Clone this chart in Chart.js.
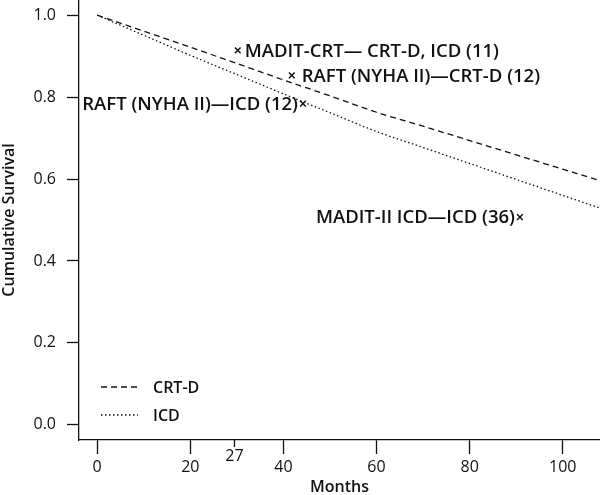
<!DOCTYPE html>
<html>
<head>
<meta charset="utf-8">
<script src="https://cdn.jsdelivr.net/npm/chart.js@4/dist/chart.umd.min.js"></script>
<style>
  body { margin: 0; background: #fff; }
  #wrap { width: 600px; height: 495px; position: relative; }
</style>
</head>
<body>
<div id="wrap"><canvas id="survivalChart"></canvas></div>
<script>
// Survival curves
const months = [0, 10, 20, 30, 40, 50, 60, 70, 80, 90, 100, 108];
const crtdSurvival = [1.0, 0.961, 0.922, 0.882, 0.842, 0.803, 0.763, 0.729, 0.694, 0.659, 0.624, 0.596];
const icdSurvival = [1.0, 0.951, 0.902, 0.855, 0.808, 0.762, 0.716, 0.677, 0.638, 0.599, 0.560, 0.529];

// Trial markers (x) with their labels
const trialNames = ['MADIT-CRT\u2014 CRT-D, ICD (11)', 'RAFT (NYHA II)\u2014CRT-D (12)', 'RAFT (NYHA II)\u2014ICD (12)', 'MADIT-II ICD\u2014ICD (36)'];
const trialMonths = [30.2, 41.8, 44.2, 90.8];
const trialSurvival = [0.914, 0.853, 0.784, 0.507];
const trialLabelSide = ['right', 'right', 'left', 'left'];

// Axis ticks
const xTicks = [0, 20, 40, 60, 80, 100];
const markTickValue = 29.5;
const markTickLabel = '27';
const yTicks = [0, 0.2, 0.4, 0.6, 0.8, 1.0];

const FONT = "'Open Sans', sans-serif";

function toPoints(xs, ys) {
    return xs.map((x, i) => ({ x: x, y: ys[i] }));
}

// Draws the marker labels, the extra "27" tick and the legend
const annotations = {
    id: 'annotations',
    afterDraw(chart) {
        const ctx = chart.ctx;
        const area = chart.chartArea;
        const xScale = chart.scales.x;
        ctx.save();
        ctx.fillStyle = '#111';
        ctx.strokeStyle = '#111';

        // marker labels
        ctx.font = '600 18.5px ' + FONT;
        ctx.textBaseline = 'middle';
        const meta = chart.getDatasetMeta(2);
        meta.data.forEach((pt, i) => {
            if (trialLabelSide[i] === 'right') {
                ctx.textAlign = 'left';
                ctx.fillText(trialNames[i], pt.x + (i === 0 ? 7 : 10), pt.y + 1);
            } else {
                ctx.textAlign = 'right';
                ctx.fillText(trialNames[i], pt.x - 5, pt.y + 1);
            }
        });

        // short tick for 27 months
        const tx = xScale.getPixelForValue(markTickValue);
        ctx.lineWidth = 1.3;
        ctx.beginPath();
        ctx.moveTo(tx, area.bottom);
        ctx.lineTo(tx, area.bottom + 7);
        ctx.stroke();
        ctx.font = '16px ' + FONT;
        ctx.textAlign = 'center';
        ctx.fillText(markTickLabel, tx, area.bottom + 16);

        // legend
        const lx = area.left + 22;
        const rows = [
            { label: 'CRT-D', dash: [6, 4], y: area.bottom - 53 },
            { label: 'ICD', dash: [1.5, 2.5], y: area.bottom - 25 }
        ];
        rows.forEach(r => {
            ctx.setLineDash(r.dash);
            ctx.lineWidth = 1.3;
            ctx.beginPath();
            ctx.moveTo(lx, r.y);
            ctx.lineTo(lx + 37, r.y);
            ctx.stroke();
            ctx.setLineDash([]);
            ctx.font = '600 16px ' + FONT;
            ctx.textAlign = 'left';
            ctx.fillText(r.label, lx + 52, r.y + 1);
        });
        ctx.restore();
    }
};

new Chart(document.querySelector('#survivalChart'), {
    type: 'scatter',
    data: {
        datasets: [
            {
                label: 'CRT-D',
                data: toPoints(months, crtdSurvival),
                showLine: true,
                borderColor: '#111',
                borderWidth: 1.3,
                borderDash: [6, 4],
                pointRadius: 0,
                cubicInterpolationMode: 'monotone'
            },
            {
                label: 'ICD',
                data: toPoints(months, icdSurvival),
                showLine: true,
                borderColor: '#111',
                borderWidth: 1.3,
                borderDash: [1.5, 2.5],
                pointRadius: 0,
                cubicInterpolationMode: 'monotone'
            },
            {
                label: 'Trials',
                data: toPoints(trialMonths, trialSurvival),
                pointStyle: 'crossRot',
                pointRadius: 4,
                borderColor: '#111',
                borderWidth: 1.5
            }
        ]
    },
    plugins: [annotations],
    options: {
        responsive: true,
        maintainAspectRatio: false,
        animation: false,
        layout: { padding: 0, autoPadding: false },
        plugins: {
            legend: { display: false },
            tooltip: { enabled: false }
        },
        scales: {
            x: {
                type: 'linear',
                min: -3.9,
                max: 108,
                afterBuildTicks: s => { s.ticks = xTicks.map(v => ({ value: v })); },
                afterFit: s => { s.height = 55; s.paddingLeft = 0; s.paddingRight = 0; },
                ticks: { color: '#111', font: { family: FONT, size: 16 }, padding: 4, maxRotation: 0 },
                grid: { drawOnChartArea: false, tickLength: 14, tickColor: '#111', tickWidth: 1.3 },
                border: { color: '#111', width: 1.3 },
                title: { display: true, text: 'Months', color: '#111', font: { family: FONT, size: 16, weight: '600' }, padding: { top: 0, bottom: -2 } }
            },
            y: {
                min: -0.037,
                max: 1.037,
                afterBuildTicks: s => { s.ticks = yTicks.map(v => ({ value: v })); },
                afterFit: s => { s.width = 79; s.paddingTop = 0; s.paddingBottom = 0; },
                ticks: { color: '#111', font: { family: FONT, size: 16 }, padding: 11, callback: v => v.toFixed(1) },
                grid: { drawOnChartArea: false, tickLength: 12, tickColor: '#111', tickWidth: 1.3 },
                border: { color: '#111', width: 1.3 },
                title: { display: true, text: 'Cumulative Survival', color: '#111', font: { family: FONT, size: 16, weight: '600' }, padding: { top: 0, bottom: 0 } }
            }
        }
    }
});
</script>
</body>
</html>
